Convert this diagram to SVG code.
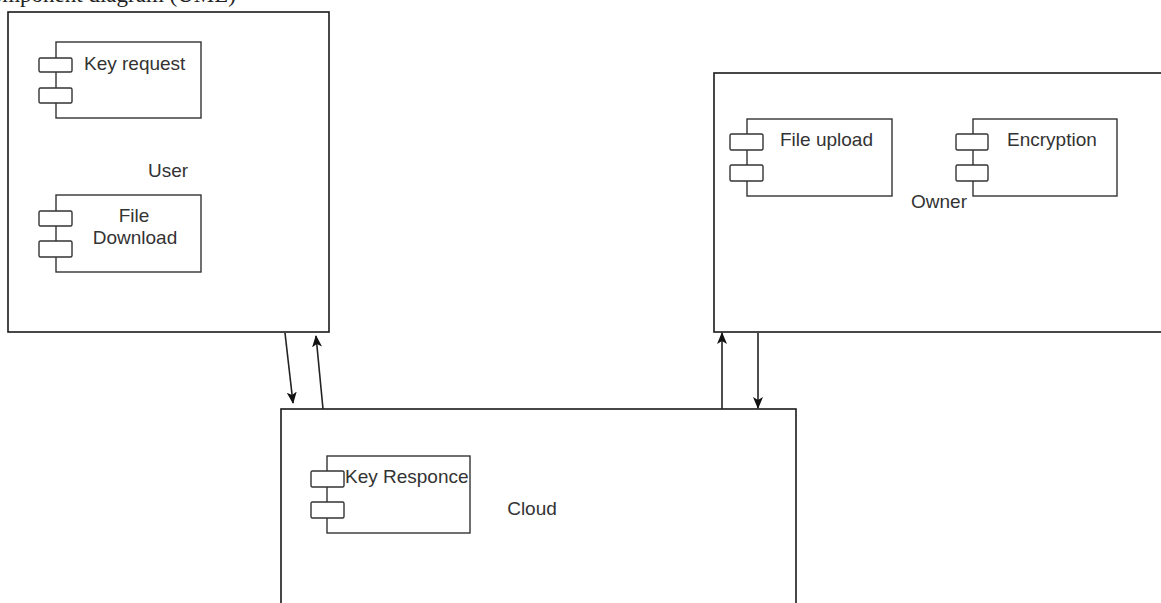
<svg xmlns="http://www.w3.org/2000/svg" width="1161" height="603" viewBox="0 0 1161 603">
  <style>
    .frame { fill: #ffffff; stroke: #1a1a1a; stroke-width: 1.6; }
    .comp { fill: #ffffff; stroke: #333333; stroke-width: 1.4; }
    .tab { fill: #ffffff; stroke: #333333; stroke-width: 1.4; }
    .lbl { font-family: "Liberation Sans", Arial, sans-serif; font-size: 19px; fill: #333333; }
    .title { font-family: "Liberation Serif", "Times New Roman", serif; font-size: 23px; fill: #222222; }
    .link { fill: none; stroke: #222222; stroke-width: 1.6; }
  </style>
  <defs>
    <marker id="arrow" viewBox="0 0 12 12" refX="11" refY="6" markerWidth="12" markerHeight="12" markerUnits="userSpaceOnUse" orient="auto">
      <path d="M0,1 L12,6 L0,11 L3,6 Z" fill="#111111"/>
    </marker>
  </defs>
  <rect width="1161" height="603" fill="#ffffff"/>

  <!-- caption line, clipped by the top edge -->
  <text class="title" x="236" y="2" text-anchor="end">Component diagram (UML)</text>

  <g id="user">
    <rect class="frame" x="8" y="12" width="321" height="320"/>
    <text class="lbl" x="168" y="177" text-anchor="middle">User</text>
    <g id="key-request">
      <rect class="comp" x="56" y="42" width="145" height="76"/>
      <rect class="tab" x="39" y="58" width="33" height="14" rx="1.5"/>
      <rect class="tab" x="39" y="88" width="33" height="15" rx="1.5"/>
      <text class="lbl" x="84" y="70">Key request</text>
    </g>
    <g id="file-download">
      <rect class="comp" x="56" y="195" width="145" height="77"/>
      <rect class="tab" x="39" y="211" width="33" height="15" rx="1.5"/>
      <rect class="tab" x="39" y="241" width="33" height="16" rx="1.5"/>
      <text class="lbl" x="134" y="222" text-anchor="middle">File</text>
      <text class="lbl" x="135" y="244" text-anchor="middle">Download</text>
    </g>
  </g>

  <g id="owner">
    <rect class="frame" x="714" y="73" width="460" height="259"/>
    <text class="lbl" x="939" y="208" text-anchor="middle">Owner</text>
    <g id="file-upload">
      <rect class="comp" x="747" y="119" width="145" height="77"/>
      <rect class="tab" x="730" y="134" width="33" height="16" rx="1.5"/>
      <rect class="tab" x="730" y="165" width="33" height="16" rx="1.5"/>
      <text class="lbl" x="780" y="146">File upload</text>
    </g>
    <g id="encryption">
      <rect class="comp" x="973" y="119" width="144" height="77"/>
      <rect class="tab" x="956" y="134" width="32" height="16" rx="1.5"/>
      <rect class="tab" x="956" y="165" width="32" height="16" rx="1.5"/>
      <text class="lbl" x="1007" y="146">Encryption</text>
    </g>
  </g>

  <g id="cloud">
    <rect class="frame" x="281" y="409" width="515" height="210"/>
    <text class="lbl" x="532" y="515" text-anchor="middle">Cloud</text>
    <g id="key-responce">
      <rect class="comp" x="327" y="456" width="143" height="77"/>
      <rect class="tab" x="311" y="471" width="33" height="16" rx="1.5"/>
      <rect class="tab" x="311" y="502" width="33" height="16" rx="1.5"/>
      <text class="lbl" x="345" y="483">Key Responce</text>
    </g>
  </g>

  <g id="connectors">
    <line class="link" x1="285" y1="333" x2="293" y2="403" marker-end="url(#arrow)"/>
    <line class="link" x1="323" y1="409" x2="316" y2="336" marker-end="url(#arrow)"/>
    <line class="link" x1="722" y1="409" x2="722" y2="333" marker-end="url(#arrow)"/>
    <line class="link" x1="758" y1="333" x2="758" y2="408" marker-end="url(#arrow)"/>
  </g>
</svg>
